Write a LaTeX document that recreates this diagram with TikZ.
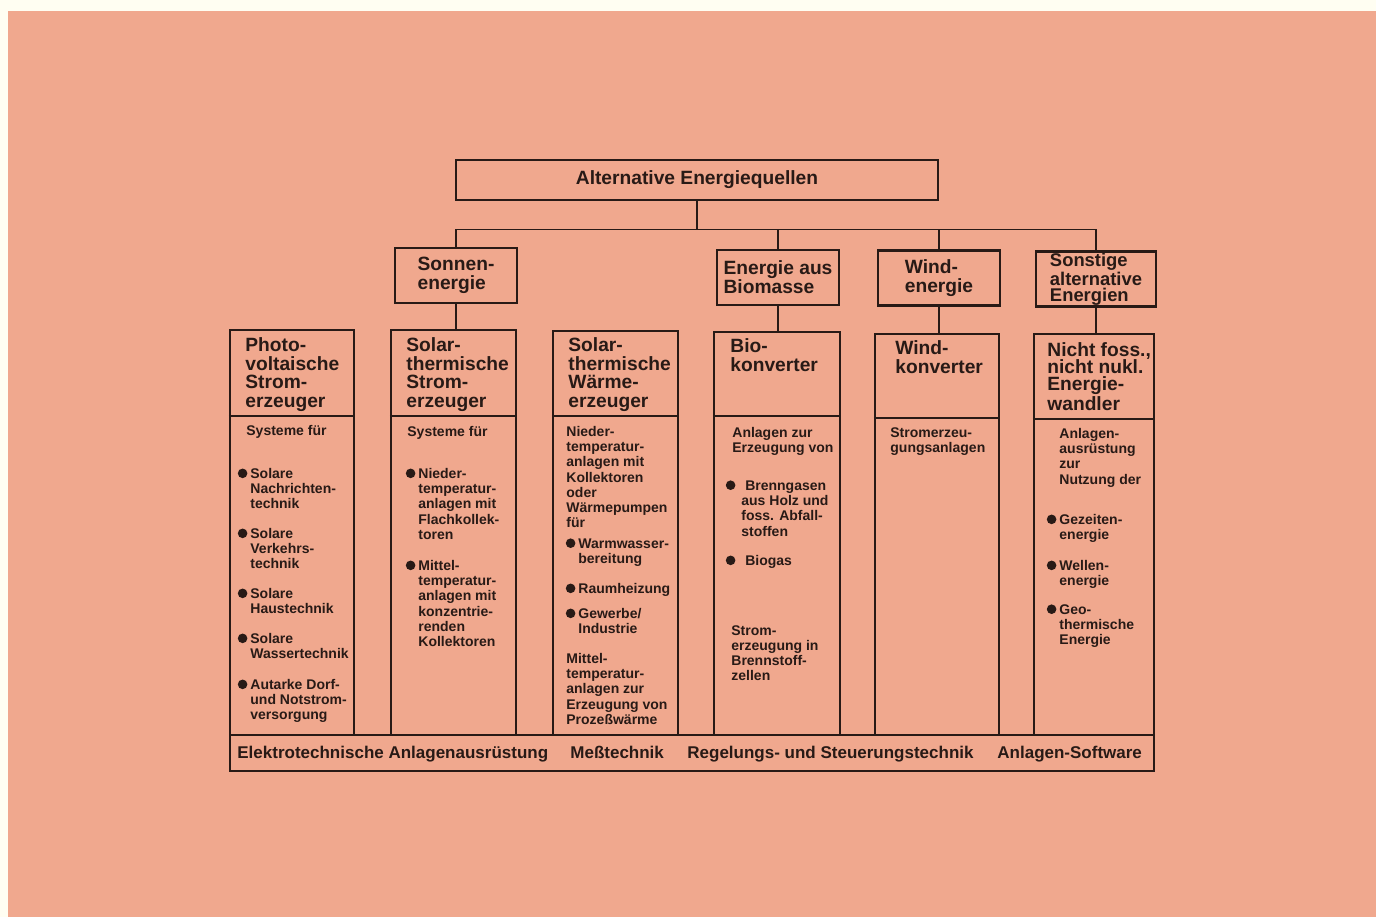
\documentclass[tikz,border=0pt]{standalone}
\usepackage{fontspec}
\setmainfont{Liberation Sans}
\usetikzlibrary{fit}
\definecolor{paper}{RGB}{240,168,142}
\definecolor{ink}{RGB}{40,26,22}
\newcommand\blt[1][1.5pt]{\llap{\tikz[x=1pt, y=1pt, baseline=-2.6pt]\fill[ink] (0,0) circle (2.4pt);\kern#1}}

\begin{document}
\begin{tikzpicture}[x=0.5pt, y=-0.5pt,
  every node/.style = {text=ink, inner sep=0pt},
  box/.style = {draw=ink, line width=1.4pt},
  column/.style = {draw=ink, line width=1.2pt, fit={#1}},
  link/.style = {draw=ink, line width=0.7pt},
  rule/.style = {draw=ink, line width=1pt},
  branch/.style = {box, align=left, minimum width=61pt, minimum height=27.5pt,
    font=\fontsize{9.6}{9.4}\selectfont\bfseries},
  head/.style = {anchor=north west, align=left, font=\fontsize{9.6}{9.4}\selectfont\bfseries},
  body/.style = {anchor=north west, align=left, font=\fontsize{7}{7.6}\selectfont\bfseries},
  foot/.style = {anchor=base west, font=\fontsize{8.5}{10}\selectfont\bfseries}]
  \useasboundingbox (0,0) rectangle (1376,917);
  \fill[white!95!yellow] (0,0) rectangle (1376,917);
  \fill[paper] (8,11) rectangle (1376,917);

  \node[box, minimum width=241pt, minimum height=20pt,
    font=\fontsize{9.6}{11}\selectfont\bfseries] (root) at (697,180) {Alternative Energiequellen};
  \node[branch] (sonne) at (456,275.5) {Sonnen-\\energie};
  \node[branch] (bio) at (778,277.5) {Energie aus\\Biomasse};
  \node[branch] (wind) at (939,278) {Wind-\\energie};
  \node[branch, minimum width=60pt, font=\fontsize{9.2}{7.9}\selectfont\bfseries] (sonst) at (1096,279) {Sonstige\\alternative\\Energien};

  \node[column={(230,330) (354,735)}] (c1) {};
  \node[column={(391,330) (516,735)}] (c2) {};
  \node[column={(553,331) (678,735)}] (c3) {};
  \node[column={(714,332) (840,735)}] (c4) {};
  \node[column={(875,334) (999,735)}] (c5) {};
  \node[column={(1034,334) (1154,735)}] (c6) {};
  \node[column={(230,735) (1154,771)}] (tools) {};
  \foreach \c/\y in {c1/416, c2/416, c3/416, c4/416, c5/418, c6/419}
    \draw[rule] (\c.west |- 0,\y) -- (\c.east |- 0,\y);

  \draw[link] (root.south) -- ++(0,28) coordinate (hub);
  \draw[link] (sonne.north) |- (hub) -| (sonst.north);
  \draw[link] (bio.north) -- (bio.north |- hub);
  \draw[link] (wind.north) -- (wind.north |- hub);
  \draw[link] (sonne.south) -- (sonne.south |- c2.north);
  \draw[link] (bio.south) -- (bio.south |- c4.north);
  \draw[link] (wind.south) -- (wind.south |- c5.north);
  \draw[link] (sonst.south) -- (sonst.south |- c6.north);

  \node[head] (h1) at (245,337) {Photo-\\voltaische\\Strom-\\erzeuger};
  \node[head] (h2) at (406,337) {Solar-\\thermische\\Strom-\\erzeuger};
  \node[head] (h3) at (568,337) {Solar-\\thermische\\Wärme-\\erzeuger};
  \node[head] (h4) at (730,338) {Bio-\\konverter};
  \node[head] (h5) at (895,340) {Wind-\\konverter};
  \node[head, font=\fontsize{9.6}{8.6}\selectfont\bfseries] (h6) at (1047,342) {Nicht foss.,\\nicht nukl.\\Energie-\\wandler};

  \node[body] (b1a) at (246,425) {Systeme für};
  \node[body] (b1b) at (250,468) {\blt Solare\\Nachrichten-\\technik};
  \node[body] (b1c) at (250,528) {\blt Solare\\Verkehrs-\\technik};
  \node[body] (b1d) at (250,588) {\blt Solare\\Haustechnik};
  \node[body] (b1e) at (250,633) {\blt Solare\\Wassertechnik};
  \node[body] (b1f) at (250,679) {\blt Autarke Dorf-\\und Notstrom-\\versorgung};

  \node[body] (b2a) at (407,426) {Systeme für};
  \node[body] (b2b) at (418,468) {\blt Nieder-\\temperatur-\\anlagen mit\\Flachkollek-\\toren};
  \node[body] (b2c) at (418,560) {\blt Mittel-\\temperatur-\\anlagen mit\\konzentrie-\\renden\\Kollektoren};

  \node[body] (b3a) at (566,426) {Nieder-\\temperatur-\\anlagen mit\\Kollektoren\\oder\\Wärmepumpen\\für};
  \node[body] (b3b) at (578,538) {\blt Warmwasser-\\bereitung};
  \node[body] (b3c) at (578,583) {\blt Raumheizung};
  \node[body] (b3d) at (578,608) {\blt Gewerbe/\\Industrie};
  \node[body] (b3e) at (566,653) {Mittel-\\temperatur-\\anlagen zur\\Erzeugung von\\Prozeßwärme};

  \node[body] (b4a) at (732,427) {Anlagen zur\\Erzeugung von};
  \node[body] (b4b) at (741,480) {\blt[3pt] Brenngasen\\aus Holz und\\foss. Abfall-\\stoffen};
  \node[body] (b4c) at (741,555) {\blt[3pt] Biogas};
  \node[body] (b4d) at (731,625) {Strom-\\erzeugung in\\Brennstoff-\\zellen};

  \node[body] (b5a) at (890,427) {Stromerzeu-\\gungsanlagen};

  \node[body] (b6a) at (1059,428) {Anlagen-\\ausrüstung\\zur\\Nutzung der};
  \node[body] (b6b) at (1059,514) {\blt Gezeiten-\\energie};
  \node[body] (b6c) at (1059,560) {\blt Wellen-\\energie};
  \node[body] (b6d) at (1059,604) {\blt Geo-\\thermische\\Energie};

  \node[foot] (f1) at (237,758) {Elektrotechnische Anlagenausrüstung};
  \node[foot] (f2) at (570,758) {Meßtechnik};
  \node[foot] (f3) at (687,758) {Regelungs- und Steuerungstechnik};
  \node[foot] (f4) at (997,758) {Anlagen-Software};
\end{tikzpicture}
\end{document}
